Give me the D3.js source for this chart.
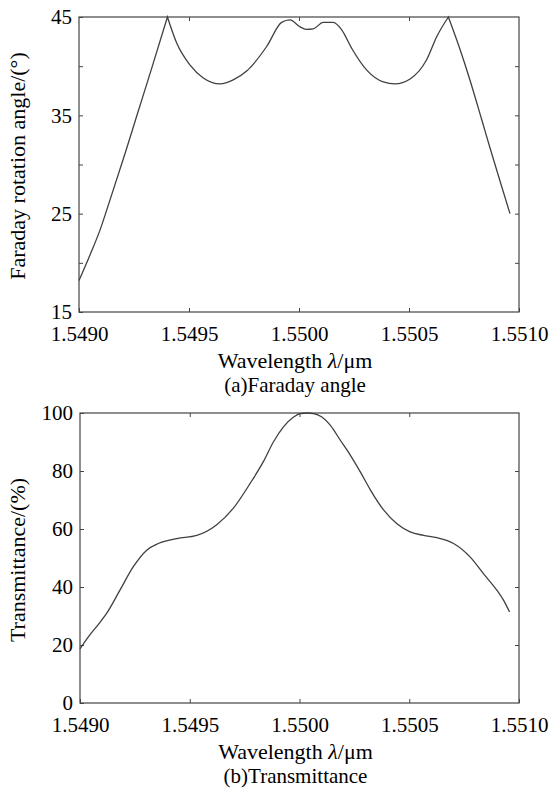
<!DOCTYPE html>
<html>
<head>
<meta charset="utf-8">
<script src="https://cdn.jsdelivr.net/npm/d3@7"></script>
<style>
  html, body { margin: 0; padding: 0; background: #fff; }
  svg { display: block; }
  svg text { font-family: "Liberation Serif", "Times New Roman", "DejaVu Serif", serif !important; fill: #000; }
</style>
</head>
<body>
<svg id="chart" width="551" height="790"></svg>
<script>
// ---------- data ----------
const xTicks = [1.5490, 1.5495, 1.5500, 1.5505, 1.5510];

const faradayWavelength = [
  1.549000, 1.549050, 1.549095, 1.549141, 1.549209, 1.549262, 1.549332, 1.549402,
  1.549444, 1.549505, 1.549565, 1.549641, 1.549701, 1.549762, 1.549853, 1.549921, 1.549959,
  1.550005, 1.550032, 1.550065, 1.550110, 1.550156, 1.550194, 1.550240, 1.550308, 1.550383,
  1.550436, 1.550505, 1.550580, 1.550626, 1.550679, 1.550729, 1.550777, 1.550830, 1.550868,
  1.550914, 1.550959
];
const faradayAngle = [
  18.2, 20.8, 23.3, 26.4, 31.1, 34.9, 39.9, 45.0,
  42.35, 40.1, 38.8, 38.2, 38.6, 39.5, 42.0, 44.45, 44.7,
  44.0, 43.75, 43.8, 44.45, 44.45, 43.7, 41.8, 39.6, 38.4,
  38.2, 38.7, 40.65, 43.0, 45.0, 41.9, 38.6, 34.6, 31.7,
  28.3, 25.0
];
const faradayYTicks = [15, 20, 25, 30, 35, 40, 45];
const faradayYLabels = [15, 25, 35, 45];

const transWavelength = [
  1.549000, 1.549038, 1.549091, 1.549122, 1.549182, 1.549243, 1.549304, 1.549357, 1.549441,
  1.549532, 1.549623, 1.549699, 1.549775, 1.549836, 1.549881, 1.549927, 1.549973, 1.550003,
  1.550034, 1.550064, 1.550102, 1.550140, 1.550186, 1.550232, 1.550277, 1.550322, 1.550383,
  1.550444, 1.550504, 1.550565, 1.550626, 1.550702, 1.550778, 1.550838, 1.550899, 1.550930,
  1.550957
];
const transValue = [
  18.7, 22.8, 27.8, 31.0, 38.9, 47.0, 52.7, 55.0, 56.7,
  57.8, 61.5, 67.2, 75.7, 83.3, 90.0, 95.2, 98.6, 99.8,
  100.0, 99.8, 98.6, 95.8, 90.6, 85.4, 79.7, 73.6, 66.6,
  61.8, 59.0, 57.8, 57.0, 55.0, 50.3, 44.6, 38.9, 35.4,
  31.4
];
const transYTicks = [0, 20, 40, 60, 80, 100];

// ---------- drawing ----------
const svg = d3.select("#chart");
const axisColor = "#444";
const tickFont = 21;
const serif = "Liberation Serif, Times New Roman, serif";
const fmtX = d3.format(".4f");

function panel(opts) {
  const { left, right, top, bottom, xDomain, yDomain, yTicks, yLabelSet, xs, ys,
          yTitle, caption, cuspValue, titleCenterY } = opts;
  const x = d3.scaleLinear().domain(xDomain).range([left, right]);
  const y = d3.scaleLinear().domain(yDomain).range([bottom, top]);
  const g = svg.append("g").attr("font-family", serif);

  // frame
  g.append("rect")
    .attr("x", left).attr("y", top)
    .attr("width", right - left).attr("height", bottom - top)
    .attr("fill", "none").attr("stroke", axisColor).attr("stroke-width", 1.2);

  // bottom axis
  const gb = g.append("g").attr("transform", `translate(0,${bottom})`)
    .call(d3.axisBottom(x).tickValues(xTicks).tickSize(-4).tickPadding(0).tickFormat(fmtX));
  gb.attr("font-family", serif);
  gb.select(".domain").remove();
  gb.selectAll("line").attr("stroke", axisColor);
  gb.selectAll("text").attr("y", 29).attr("dy", null)
    .style("font-size", tickFont + "px").attr("font-family", serif);

  // top axis (mirror ticks, no labels)
  const gt = g.append("g").attr("transform", `translate(0,${top})`)
    .call(d3.axisTop(x).tickValues(xTicks.slice(1, -1)).tickSize(-4).tickFormat(""));
  gt.select(".domain").remove();
  gt.selectAll("line").attr("stroke", axisColor);

  // left axis
  const gl = g.append("g").attr("transform", `translate(${left},0)`)
    .call(d3.axisLeft(y).tickValues(yTicks).tickSize(-4).tickPadding(7)
      .tickFormat(v => yLabelSet.includes(v) ? String(v) : ""));
  gl.attr("font-family", serif);
  gl.select(".domain").remove();
  gl.selectAll("line").attr("stroke", axisColor);
  gl.selectAll("text").style("font-size", tickFont + "px").attr("font-family", serif);

  // right axis (mirror ticks)
  const gr = g.append("g").attr("transform", `translate(${right},0)`)
    .call(d3.axisRight(y).tickValues(yTicks.slice(1, -1)).tickSize(-4).tickFormat(""));
  gr.select(".domain").remove();
  gr.selectAll("line").attr("stroke", axisColor);

  // curve: split into smooth pieces at sharp cusps (if any)
  const pts = xs.map((v, i) => [v, ys[i]]);
  const pieces = [];
  let cur = [];
  pts.forEach((p, i) => {
    cur.push(p);
    if (cuspValue !== null && p[1] >= cuspValue && i > 0 && i < pts.length - 1) {
      pieces.push(cur);
      cur = [p];
    }
  });
  pieces.push(cur);
  const line = d3.line().x(d => x(d[0])).y(d => y(d[1])).curve(d3.curveMonotoneX);
  const dStr = pieces.map((pc, k) => {
    const s = line(pc);
    return k === 0 ? s : "L" + s.slice(1);
  }).join("");
  g.append("path")
    .attr("fill", "none")
    .attr("stroke", "#404040")
    .attr("stroke-width", 1.3)
    .attr("stroke-linejoin", "miter")
    .attr("d", dStr);

  // x title
  const cx = (left + right) / 2 - 4;
  const xt = g.append("text")
    .attr("x", cx).attr("y", bottom + 56)
    .attr("text-anchor", "middle")
    .attr("font-family", serif)
    .style("font-size", "22px");
  xt.append("tspan").text("Wavelength ");
  xt.append("tspan").style("font-style", "italic").text("λ");
  xt.append("tspan").text("/μm");

  // caption
  g.append("text")
    .attr("x", cx).attr("y", bottom + 80)
    .attr("text-anchor", "middle")
    .attr("font-family", serif)
    .style("font-size", "21px")
    .text(caption);

  // y title
  g.append("text")
    .attr("transform", `translate(25,${titleCenterY}) rotate(-90)`)
    .attr("text-anchor", "middle")
    .attr("font-family", serif)
    .style("font-size", "22px")
    .text(yTitle);
}

panel({
  left: 79, right: 519, top: 17, bottom: 312,
  xDomain: [1.5490, 1.5510], yDomain: [15, 45],
  yTicks: faradayYTicks, yLabelSet: faradayYLabels,
  xs: faradayWavelength, ys: faradayAngle,
  yTitle: "Faraday rotation angle/(°)", caption: "(a)Faraday angle",
  cuspValue: 44.95, titleCenterY: 166
});

panel({
  left: 80, right: 519, top: 413, bottom: 703,
  xDomain: [1.5490, 1.5510], yDomain: [0, 100],
  yTicks: transYTicks, yLabelSet: transYTicks,
  xs: transWavelength, ys: transValue,
  yTitle: "Transmittance/(%)", caption: "(b)Transmittance",
  cuspValue: null, titleCenterY: 560
});
</script>
</body>
</html>
